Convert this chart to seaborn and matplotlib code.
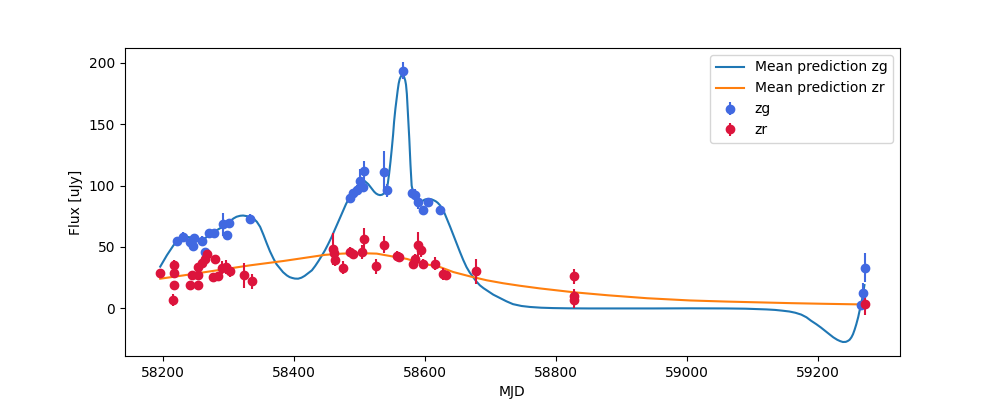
import numpy as np
import pandas as pd
import matplotlib
matplotlib.use("Agg")
import matplotlib.pyplot as plt
import seaborn as sns

# Observaciones zg
mjd_zg = [58222.0, 58230.5, 58242.7, 58245.8, 58248.8, 58260.1, 58265.1, 58271.7, 58279.3,
          58293.0, 58302.2, 58299.1, 58334.2,
          58486.3, 58491.3, 58496.5, 58501.5, 58506.5, 58508.0, 58538.6, 58543.2, 58567.5,
          58580.3, 58585.4, 58590.4, 58597.1, 58605.7, 58623.5,
          59265.6, 59269.0, 59272.0]
flux_zg = [54.7, 58.2, 54.1, 50.9, 57.7, 54.9, 46.0, 61.0, 61.5,
           68.3, 69.4, 59.6, 72.7,
           89.5, 93.6, 96.3, 103.7, 98.5, 112.0, 111.3, 96.0, 193.5,
           94.2, 92.2, 86.8, 79.7, 86.8, 80.0,
           3.0, 12.8, 33.2]
err_zg = [3, 4, 3, 3, 3, 4, 3, 3, 3,
          9, 3, 3, 4,
          3, 3, 4, 10, 4, 8, 17, 5, 7,
          3, 5, 6, 4, 3, 3,
          3, 8, 12]

# Observaciones zr
mjd_zr = [58196.5, 58216.8, 58217.8, 58216.8, 58215.9, 58242.2, 58244.8, 58254.9, 58254.9,
          58254.9, 58260.0, 58265.1, 58268.6, 58280.4, 58277.8, 58285.4, 58290.6, 58297.1,
          58303.2, 58325.0, 58336.3,
          58459.9, 58461.9, 58463.4, 58476.0, 58486.3, 58491.3, 58504.1, 58507.6, 58525.9,
          58538.6, 58557.5, 58561.0, 58581.9, 58585.4, 58590.4, 58594.1, 58597.1, 58615.9,
          58627.6, 58632.7, 58678.4,
          58827.9, 58827.9, 58827.9, 59272.0]
flux_zr = [29.1, 35.7, 28.8, 19.3, 7.1, 19.3, 26.9, 19.3, 26.9,
           33.7, 37.0, 40.6, 44.1, 40.0, 25.6, 26.4, 33.2, 33.7,
           30.4, 26.9, 22.0,
           48.7, 45.2, 39.2, 33.2, 46.0, 44.6, 46.0, 56.3, 34.3,
           52.0, 42.4, 42.0, 36.5, 40.6, 51.4, 47.9, 36.5, 36.5,
           28.3, 26.9, 30.2,
           26.1, 9.8, 7.1, 3.3]
err_zr = [3, 4, 4, 3, 5, 3, 3, 3, 3,
          3, 3, 3, 3, 3, 3, 3, 5, 6,
          5, 10, 6,
          13, 4, 5, 5, 4, 4, 6, 9, 6,
          7, 4, 4, 4, 4, 11, 6, 4, 5,
          5, 3, 10,
          6, 6, 7, 9]

# Predicción media
mjd_pred_zg = [58196.5, 58206.7, 58216.8, 58224.4, 58230.0, 58237.2, 58243.0, 58249.9, 58255.0,
               58260.1, 58265.0, 58270.2, 58276.0, 58283.0, 58289.0, 58295.6, 58302.0, 58308.3,
               58313.0, 58318.5, 58323.0, 58328.7, 58334.0, 58338.8, 58344.0, 58349.0, 58354.0,
               58359.2, 58364.0, 58369.3, 58374.0, 58379.5, 58384.0, 58389.7, 58394.0, 58398.0,
               58402.0, 58407.0, 58412.0, 58417.0, 58422.0, 58428.0, 58433.0, 58438.0, 58443.0,
               58448.0, 58453.0, 58458.0, 58463.0, 58468.0, 58472.0, 58476.0, 58480.0, 58484.0,
               58488.0, 58492.0, 58496.0, 58500.0, 58504.0, 58509.0, 58514.0, 58519.0, 58523.0,
               58526.0, 58529.0, 58532.0, 58535.0, 58538.0, 58540.0, 58542.0, 58544.0, 58546.0,
               58548.0, 58550.0, 58552.0, 58553.5, 58555.5, 58557.5, 58559.0, 58560.5, 58562.0,
               58563.6, 58565.0, 58566.6, 58568.0, 58569.0, 58570.5, 58571.7, 58573.0, 58574.0,
               58575.5, 58576.7, 58578.5, 58580.3, 58583.0, 58586.0, 58589.5, 58593.0, 58596.5,
               58600.0, 58604.0, 58608.0, 58611.0, 58614.0, 58617.0, 58620.0, 58623.5, 58627.0,
               58630.5, 58634.0, 58639.0, 58644.0, 58649.0, 58654.0, 58659.0, 58664.0, 58669.0,
               58674.0, 58679.0, 58684.5, 58690.0, 58695.0, 58700.0, 58705.0, 58710.0, 58715.0,
               58725.0, 58735.0, 58748.0, 58761.0, 58778.0, 58796.0, 58820.0, 58850.0, 58900.0,
               58950.0, 59005.0, 59060.0, 59090.0, 59106.0, 59122.0, 59135.0, 59146.0, 59157.0,
               59166.0, 59175.0, 59183.0, 59190.0, 59198.0, 59205.0, 59212.0, 59218.0, 59224.0,
               59230.0, 59234.5, 59238.6, 59243.0, 59246.0, 59248.8, 59251.5, 59254.0, 59256.5,
               59259.0, 59260.5, 59262.0, 59263.0, 59264.0, 59265.3, 59266.7, 59268.0, 59269.0,
               59270.2, 59271.5]
flux_pred_zg = [34.0, 43.3, 51.4, 55.5, 57.3, 58.2, 57.8, 56.9, 55.8,
                55.5, 57.0, 59.6, 61.8, 63.7, 65.6, 67.8, 70.5, 73.2,
                74.6, 75.4, 75.6, 75.1, 74.3, 73.2, 70.5, 66.4, 60.0,
                52.8, 46.5, 40.6, 36.0, 32.4, 29.5, 26.9, 25.5, 24.8,
                24.3, 24.2, 25.0, 26.5, 28.5, 31.0, 34.5, 38.5, 42.8,
                47.3, 52.5, 58.0, 64.0, 70.0, 75.0, 80.0, 84.8, 89.0,
                92.8, 96.0, 98.8, 101.0, 102.7, 103.5, 101.2, 97.7, 95.0,
                93.5, 92.6, 92.2, 92.5, 93.5, 94.8, 96.5, 102.0, 110.0,
                119.5, 130.0, 141.5, 152.0, 162.5, 171.0, 177.5, 183.0, 186.5,
                188.5, 189.8, 190.0, 189.3, 188.0, 185.5, 182.0, 174.5, 165.0,
                152.0, 138.0, 117.0, 100.0, 93.0, 90.0, 88.0, 87.0, 87.3,
                88.5, 89.0, 89.0, 88.7, 88.0, 87.2, 86.0, 84.0, 81.0,
                77.5, 73.0, 66.5, 59.6, 52.5, 46.0, 39.5, 33.7, 29.2,
                25.6, 22.0, 18.8, 16.5, 14.7, 12.8, 11.2, 9.8, 8.5,
                5.8, 3.5, 2.0, 1.2, 0.6, 0.3, 0.1, 0.0, 0.0,
                0.0, 0.1, 0.0, -0.2, -0.5, -0.8, -1.2, -1.8, -2.5,
                -3.5, -5.0, -7.2, -10.0, -12.8, -15.5, -18.5, -21.0, -23.5,
                -25.5, -26.6, -27.3, -27.2, -26.5, -25.5, -23.6, -21.0, -17.3,
                -13.0, -10.0, -7.0, -4.5, -2.0, 0.5, 3.5, 7.5, 11.0,
                15.0, 19.0]

mjd_pred_zr = [58196.5, 58232.0, 58283.0, 58334.0, 58384.5, 58410.0, 58448.0, 58474.0, 58500.0,
               58527.0, 58550.0, 58573.0, 58593.0, 58623.5, 58644.0, 58670.0, 58695.0, 58720.0,
               58745.0, 58776.0, 58827.0, 58880.0, 58940.0, 59005.0, 59060.0, 59106.0, 59160.0,
               59208.0, 59264.0, 59272.0]
flux_pred_zr = [24.2, 26.9, 31.0, 35.1, 38.6, 40.6, 43.6, 44.6, 45.0,
                44.6, 42.4, 40.3, 37.0, 33.7, 29.6, 26.0, 22.9, 20.5,
                18.5, 16.3, 13.2, 10.7, 8.3, 6.5, 5.6, 5.0, 4.3,
                3.8, 3.3, 3.2]

pred = pd.concat([
    pd.DataFrame({"MJD": mjd_pred_zg, "flux": flux_pred_zg, "banda": "Mean prediction zg"}),
    pd.DataFrame({"MJD": mjd_pred_zr, "flux": flux_pred_zr, "banda": "Mean prediction zr"}),
])

fig, ax = plt.subplots(figsize=(10, 4), dpi=100)

sns.lineplot(data=pred, x="MJD", y="flux", hue="banda", estimator=None, sort=False,
             palette=["tab:blue", "tab:orange"], ax=ax)

ax.errorbar(mjd_zg, flux_zg, yerr=err_zg, fmt="o", color="royalblue", label="zg")
ax.errorbar(mjd_zr, flux_zr, yerr=err_zr, fmt="o", color="crimson", label="zr")

ax.set_xlabel("MJD")
ax.set_ylabel("Flux [uJy]")
ax.legend(loc="upper right")

fig.savefig("out.png")
